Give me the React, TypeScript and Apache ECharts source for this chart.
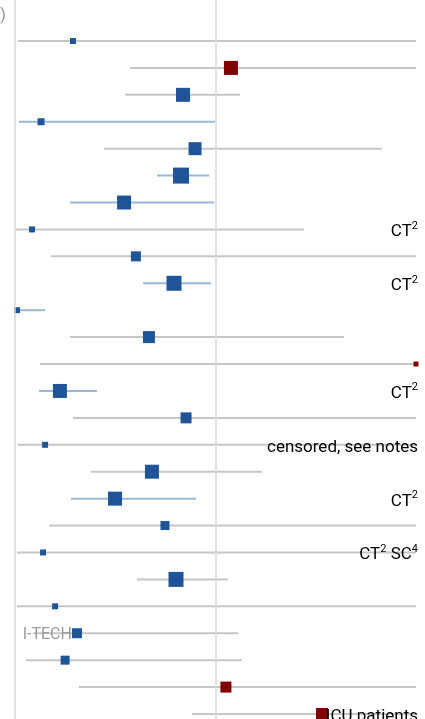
import React, { useEffect, useRef } from 'react';
import * as echarts from 'echarts';

// Effect estimates (standardised scale, 0 = no effect) and 95% CI per study row
const estimates = [-0.711, 0.077, -0.162, -0.87, -0.102, -0.172, -0.456, -0.915, -0.397, -0.207, -0.99, -0.332, 1.0, -0.776, -0.147, -0.85, -0.317, -0.501, -0.252, -0.86, -0.197, -0.8, -0.691, -0.75, 0.052, 0.531];
const lowerCI = [-0.985, -0.426, -0.451, -0.98, -0.556, -0.292, -0.726, -0.995, -0.82, -0.362, -1.0, -0.726, -0.875, -0.88, -0.711, -0.985, -0.621, -0.721, -0.83, -0.99, -0.392, -0.99, -0.91, -0.945, -0.681, -0.117];
const upperCI = [1.0, 1.0, 0.122, -0.002, 0.83, -0.032, -0.007, 0.441, 1.0, -0.022, -0.85, 0.641, 1.0, -0.591, 1.0, 1.0, 0.232, -0.097, 1.0, 1.0, 0.062, 1.0, 0.112, 0.132, 1.0, 1.0];
const weights = [6, 14, 14, 7, 13, 16, 14, 6, 10, 15, 6, 12, 5, 14, 11, 6, 14, 14, 9, 6, 15, 6, 10, 9, 11, 12];
const notes = ['', '', '', '', '', '', '', 'CT^2', '', 'CT^2', '', '', '', 'CT^2', '', 'censored, see notes', '', 'CT^2', '', 'CT^2 SC^4', '', '', '', '', '', 'ICU patients'];
const studyLabels = ['', '', '', '', '', '', '', '', '', '', '', '', '', '', '', '', '', '', '', '', '', '', 'I-TECH', '', '', ''];

const BLUE = '#1f5597';
const RED = '#800000';
const Y_MIN = -1.523;
const Y_MAX = 25.186;

function toRich(s: string): string {
  const parts = s.split(/\^(\d)/);
  let out = '';
  parts.forEach((p, k) => {
    if (!p) return;
    out += k % 2 === 1 ? `{s|${p}}` : `{b|${p}}`;
  });
  return out;
}

export default function App() {
  const ref = useRef<HTMLDivElement>(null);
  useEffect(() => {
    const chart = echarts.init(ref.current!, null, { renderer: 'svg' });
    const rows = estimates.map((_, i) => i);
    chart.setOption({
      animation: false,
      textStyle: { fontFamily: 'Roboto' },
      grid: { left: 15, right: 9, top: 0, bottom: 0 },
      xAxis: { type: 'value', min: -1, max: 1, show: false },
      yAxis: { type: 'value', inverse: true, min: Y_MIN, max: Y_MAX, show: false },
      graphic: [
        {
          type: 'text', x: 6, y: 14,
          style: { text: '(95% CI)', align: 'right', verticalAlign: 'middle', fill: '#999', font: '17px Roboto' },
        },
      ],
      series: [
        {
          type: 'line', data: [], z: 1,
          markLine: {
            silent: true, symbol: 'none', label: { show: false },
            lineStyle: { color: '#d8d8d8', width: 1.5, type: 'solid' },
            data: [{ xAxis: -1 }, { xAxis: 0 }],
          },
        },
        {
          type: 'custom', z: 2, clip: true,
          data: rows.map(i => [lowerCI[i], upperCI[i], i]),
          encode: { x: [0, 1], y: 2 },
          renderItem: (params: any, api: any) => {
            const i = api.value(2);
            const p1 = api.coord([api.value(0), i]);
            const p2 = api.coord([api.value(1), i]);
            const sig = api.value(1) < 0;
            return {
              type: 'line',
              shape: { x1: p1[0], y1: p1[1], x2: p2[0], y2: p2[1] },
              style: { stroke: sig ? '#9db7d8' : '#c6c6c6', lineWidth: 2 },
            };
          },
        },
        {
          type: 'custom', z: 3, clip: false,
          data: rows.map(i => [estimates[i], i]),
          encode: { x: 0, y: 1 },
          renderItem: (params: any, api: any) => {
            const i = api.value(1);
            const lab = studyLabels[i];
            if (!lab) return null;
            const p = api.coord([api.value(0), i]);
            return {
              type: 'text',
              x: p[0] - weights[i] / 2, y: p[1],
              style: { text: lab, align: 'right', verticalAlign: 'middle', fill: '#9a9a9a', font: '16px Roboto' },
            };
          },
        },
        {
          type: 'scatter', z: 4, clip: false, symbol: 'rect',
          data: rows.map(i => ({
            value: [estimates[i], i],
            symbolSize: weights[i],
            itemStyle: { color: estimates[i] > 0 ? RED : BLUE, opacity: 1 },
          })),
        },
        {
          type: 'custom', z: 5, clip: false,
          data: rows.map(i => [1, i]),
          encode: { x: 0, y: 1 },
          renderItem: (params: any, api: any) => {
            const i = api.value(1);
            const note = notes[i];
            if (!note) return null;
            const p = api.coord([1, i]);
            return {
              type: 'text',
              x: p[0] + 2, y: p[1],
              style: {
                text: toRich(note), align: 'right', verticalAlign: 'middle',
                rich: {
                  b: { fontSize: 17, fontFamily: 'Roboto', color: '#555', lineHeight: 19, verticalAlign: 'bottom' },
                  s: { fontSize: 11, fontFamily: 'Roboto', color: '#555', lineHeight: 19, verticalAlign: 'top', padding: [0, 0, 7, 0] },
                },
              },
            };
          },
        },
      ],
    });
    return () => chart.dispose();
  }, []);
  return <div ref={ref} style={{ position: 'fixed', left: 0, top: 0, width: 425, height: 719 }} />;
}
